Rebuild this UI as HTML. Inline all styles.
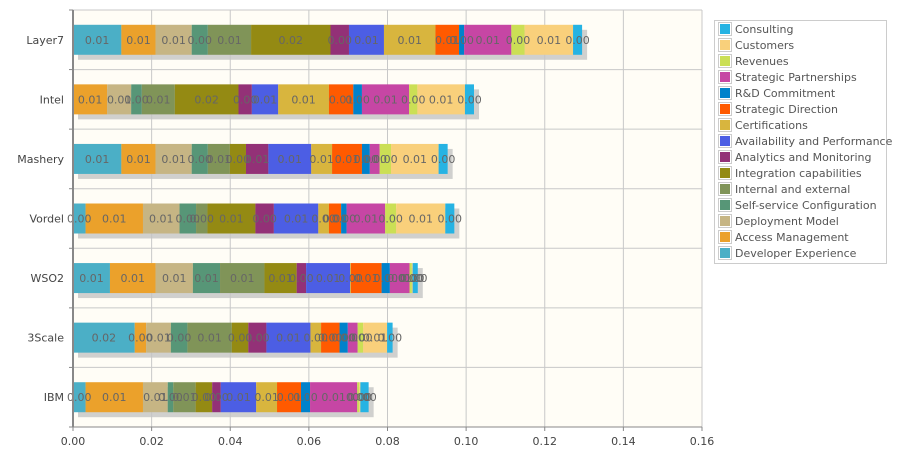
<!DOCTYPE html>
<html><head><meta charset="utf-8">
<style>
body{margin:0;background:#fff;font-family:"Liberation Sans","DejaVu Sans",sans-serif;}
svg text{font-family:"DejaVu Sans","Liberation Sans",sans-serif;}
</style></head>
<body>
<svg id="chart" width="900" height="450" xmlns="http://www.w3.org/2000/svg"></svg>
<script>
const categories=["Layer7","Intel","Mashery","Vordel","WSO2","3Scale","IBM"];
const seriesNames=["Developer Experience","Access Management","Deployment Model","Self-service Configuration","Internal and external","Integration capabilities","Analytics and Monitoring","Availability and Performance","Certifications","Strategic Direction","R&D Commitment","Strategic Partnerships","Revenues","Customers","Consulting"];
const seriesColors=["#4bafc6","#eba12b","#c6b584","#579677","#809458","#948a13","#933177","#4c5ee4","#d8b53e","#ff5a00","#0082cb","#c646a4","#cbdf55","#f9d07b","#26b3e3"];
const developerExperience=[0.0123,0,0.0123,0.0032,0.0094,0.0157,0.0032];
const accessManagement=[0.0087,0.0087,0.0087,0.0146,0.0116,0.0029,0.0146];
const deploymentModel=[0.0092,0.0061,0.0092,0.0093,0.0095,0.0063,0.0063];
const selfServiceConfiguration=[0.0041,0.0027,0.0041,0.0042,0.0069,0.0042,0.0014];
const internalAndExternal=[0.0110,0.0084,0.0056,0.0029,0.0113,0.0113,0.0057];
const integrationCapabilities=[0.0202,0.0162,0.0041,0.0122,0.0082,0.0042,0.0042];
const analyticsAndMonitoring=[0.0047,0.0034,0.0057,0.0047,0.0024,0.0046,0.0022];
const availabilityAndPerformance=[0.0089,0.0067,0.0109,0.0113,0.0112,0.0112,0.0090];
const certifications=[0.0131,0.0129,0.0053,0.0027,0.0002,0.0027,0.0053];
const strategicDirection=[0.0060,0.0062,0.0076,0.0031,0.0078,0.0047,0.0061];
const rdCommitment=[0.0013,0.0022,0.0020,0.0014,0.0021,0.0021,0.0023];
const strategicPartnerships=[0.0120,0.0120,0.0025,0.0098,0.0050,0.0025,0.0120];
const revenues=[0.0034,0.0021,0.0029,0.0028,0.0006,0.0014,0.0005];
const customers=[0.0123,0.0121,0.0121,0.0125,0.0002,0.0061,0.0003];
const consulting=[0.0023,0.0023,0.0023,0.0023,0.0013,0.0014,0.0021];
const seriesValues=[developerExperience,accessManagement,deploymentModel,selfServiceConfiguration,internalAndExternal,integrationCapabilities,analyticsAndMonitoring,availabilityAndPerformance,certifications,strategicDirection,rdCommitment,strategicPartnerships,revenues,customers,consulting];
const xTicks=[0,0.02,0.04,0.06,0.08,0.10,0.12,0.14,0.16];

const NS="http://www.w3.org/2000/svg";
const svg=document.getElementById("chart");
const L=73,R=702,T=10,B=427;
const xs=v=>L+v/0.16*(R-L);
const band=(B-T)/categories.length;
const yc=i=>T+band*(i+0.5);
const barH=30;
function mk(tag,attrs,parent){const e=document.createElementNS(NS,tag);for(const k in attrs)e.setAttribute(k,attrs[k]);(parent||svg).appendChild(e);return e;}

let bg=mk("rect",{x:L,y:T,width:R-L,height:B-T,fill:"#fffdf6"});


xTicks.forEach(t=>{
  const g=mk("line",{x1:xs(t),x2:xs(t),y1:T,y2:B,stroke:"#c8c8c8","stroke-width":1});
  
  
  const tk=mk("line",{x1:xs(t),x2:xs(t),y1:B,y2:B+4,stroke:"#888"});
  
  
  const lb=mk("text",{x:xs(t),y:B+18,"text-anchor":"middle","font-size":11,fill:"#444"});
  lb.textContent=t.toFixed(2);
  
  
});
for(let i=0;i<=categories.length;i++){
  const y=T+band*i;
  const g=mk("line",{x1:L,x2:R,y1:y,y2:y,stroke:"#c8c8c8"});
  
  
  const tk=mk("line",{x1:L-4,x2:L,y1:y,y2:y,stroke:"#888"});
  
  
}
mk("line",{x1:R,x2:R,y1:T,y2:B,stroke:"#c8c8c8"});
const labels=[];
categories.forEach((c,i)=>{
  let total=0;seriesValues.forEach(s=>total+=s[i]);
  const sh=mk("rect",{x:xs(0)+5,y:yc(i)-barH/2+5,width:xs(total)-xs(0),height:barH,fill:"#c4c4c4",opacity:0.8});
  
  
  let acc=0;
  seriesValues.forEach((s,k)=>{
    const v=s[i];
    const x0=xs(acc),x1=xs(acc+v);acc+=v;
    if(v<=0)return;
    const r=mk("rect",{x:x0,y:yc(i)-barH/2,width:x1-x0,height:barH,fill:seriesColors[k]});
    
    
    labels.push({x:(x0+x1)/2,y:yc(i)+4,v:v});
  });
  const cl=mk("text",{x:L-9,y:yc(i)+4,"text-anchor":"end","font-size":11,fill:"#444"});
  cl.textContent=c;
  
  
});
labels.forEach(l=>{
  const t=mk("text",{x:l.x,y:l.y,"text-anchor":"middle","font-size":11,fill:"#666"});
  t.textContent=l.v.toFixed(2);
  
  
});
const ax=mk("line",{x1:L,x2:L,y1:T,y2:B,stroke:"#888","stroke-width":2});


const bx=mk("line",{x1:L,x2:R,y1:B,y2:B,stroke:"#888"});


const lg=mk("g",{});


mk("rect",{x:714.5,y:20.5,width:172,height:243,fill:"#fff",stroke:"#ccc"},lg);
for(let j=0;j<seriesNames.length;j++){
  const k=seriesNames.length-1-j;
  const y=29+j*16;
  const e=mk("g",{},lg);
  
  
  mk("rect",{x:718.5,y:y-6.5,width:13,height:13,fill:"#fff",stroke:"#ccc"},e);
  mk("rect",{x:720,y:y-5,width:10,height:10,fill:seriesColors[k]},e);
  const t=mk("text",{x:735,y:y+4,"font-size":11,fill:"#555"},e);
  t.textContent=seriesNames[k];
}
</script>
</body></html>
